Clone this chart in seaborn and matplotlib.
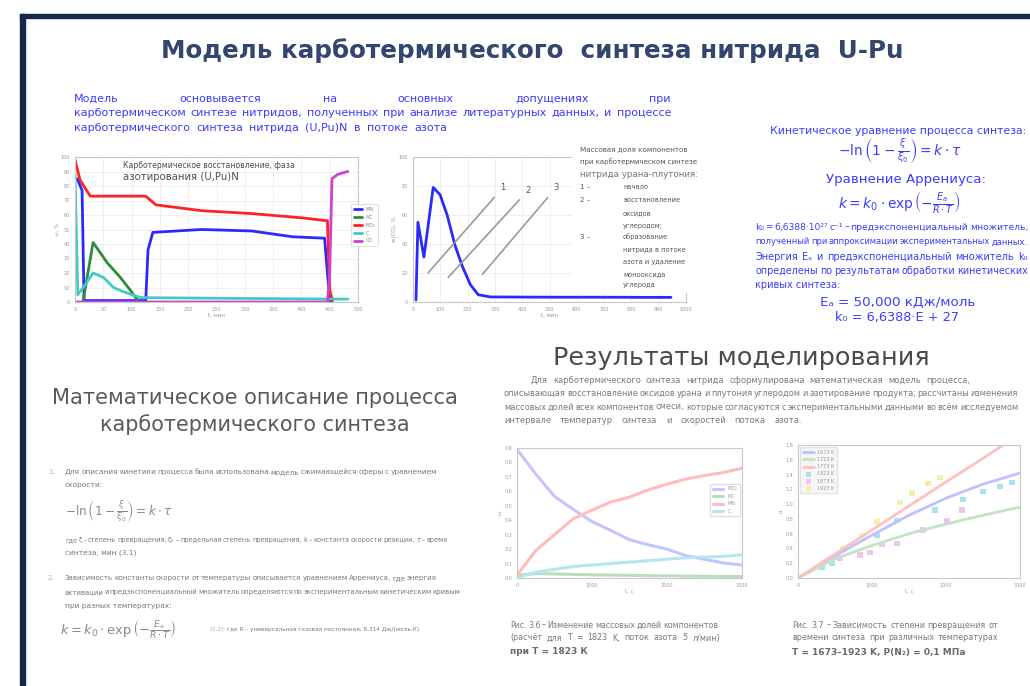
import matplotlib
matplotlib.use("Agg")
import matplotlib.pyplot as plt
import seaborn as sns
from matplotlib.patches import Rectangle

W, H = 1030, 686

# ---------------- data ----------------
# Chart 1: mass fractions of phases over the synthesis run, %
c1_labels = ["MN", "MC", "MO₂", "C", "CO"]
c1_blue_t = [4, 12.5, 16, 125, 129, 137.5, 223, 312, 384, 441, 450, 455]
c1_blue_y = [85, 77, 1, 1, 36, 48, 50, 49, 45, 44, 1, 0]
c1_green_t = [14, 32, 57, 80, 98, 111]
c1_green_y = [0, 41, 27, 17, 8, 1]
c1_red_t = [0, 9, 27, 125, 143, 223, 312, 402, 446, 450, 455]
c1_red_y = [98, 84, 73, 73, 67, 63, 61, 58, 56, 8, 1]
c1_cyan_t = [0, 5, 18, 32, 50, 68, 86, 116, 455, 482]
c1_cyan_y = [88, 5, 12, 20, 17, 10, 7, 3, 2, 2]
c1_mag_t = [0, 446, 450, 454, 464, 482]
c1_mag_y = [0, 0, 20, 85, 88, 90]

# Chart 2: CO release rate
c2_t = [11, 18, 40, 74, 99, 125, 154, 180, 210, 239, 283, 393, 540, 687, 835, 945]
c2_y = [1.4, 55, 31, 79, 74, 60, 39, 25, 12, 5, 3.5, 3.4, 3.3, 3.3, 3.2, 3.2]
c2_marks = ["1", "2", "3"]
c2_mark_xy = [(320, 79), (412, 77), (515, 79)]
c2_mark_to = [(55, 20), (129, 17), (254, 19)]

# Chart 3: component fractions vs time
c3_t = [0, 250, 500, 750, 1000, 1250, 1500, 1750, 2000, 2250, 2500, 2750, 3000]
c3_blue = [0.89, 0.72, 0.565, 0.475, 0.39, 0.33, 0.265, 0.23, 0.20, 0.155, 0.13, 0.104, 0.09]
c3_green = [0.02, 0.03, 0.028, 0.025, 0.022, 0.02, 0.018, 0.016, 0.015, 0.013, 0.012, 0.011, 0.01]
c3_red = [0.02, 0.19, 0.30, 0.41, 0.47, 0.526, 0.56, 0.61, 0.65, 0.685, 0.71, 0.73, 0.76]
c3_cyan = [0.0, 0.04, 0.06, 0.08, 0.09, 0.10, 0.11, 0.12, 0.13, 0.14, 0.145, 0.15, 0.16]
c3_labels = ["MO₂", "MC", "MN", "C"]

# Chart 4: conversion degree vs time at several temperatures
c4_t = [0, 500, 1000, 1500, 2000, 2500, 3000]
c4_blue = [0, 0.30, 0.58, 0.85, 1.08, 1.27, 1.42]
c4_green = [0, 0.26, 0.44, 0.60, 0.73, 0.85, 0.96]
c4_red = [0, 0.325, 0.65, 0.975, 1.30, 1.62, 1.95]
c4_cyan_t = [324, 459, 1067, 1337, 1851, 2229, 2500, 2729, 2891]
c4_cyan_y = [0.15, 0.20, 0.58, 0.78, 0.92, 1.06, 1.17, 1.24, 1.29]
c4_mag_t = [567, 838, 973, 1135, 1337, 1689, 2013, 2216]
c4_mag_y = [0.27, 0.31, 0.34, 0.45, 0.47, 0.65, 0.78, 0.92]
c4_yel_t = [608, 865, 1067, 1378, 1540, 1756, 1918]
c4_yel_y = [0.40, 0.58, 0.76, 1.02, 1.15, 1.28, 1.36]
c4_labels = ["1673 K", "1723 K", "1773 K", "1823 K", "1873 K", "1923 K"]

# ---------------- style ----------------
sns.set_style("white")
plt.rcParams["font.family"] = ["DejaVu Sans"]
plt.rcParams["mathtext.fontset"] = "dejavusans"

NAVY = "#14294a"
TITLE = "#34466e"
BLUE = "#3c3cff"
GRAY = "#7a7a7a"
DARK = "#505050"

fig = plt.figure(figsize=(W / 100, H / 100), dpi=100)
fig.patch.set_facecolor("white")
renderer = fig.canvas.get_renderer()


def fx(px):
    return px / W


def fy(py):
    return 1 - py / H


def width_of(t):
    return t.get_window_extent(renderer=renderer).width


def fit(x0, x1, yc, s, size=10, **kw):
    t = fig.text(fx(x0), fy(yc), s, fontsize=size, ha="left", va="center", **kw)
    t.set_fontsize(size * (x1 - x0) / width_of(t))
    return t


def left(x0, yc, s, size, **kw):
    return fig.text(fx(x0), fy(yc), s, fontsize=size, ha="left", va="center", **kw)


def justify(x0, x1, yc, s, size, **kw):
    words = s.split()
    objs = [fig.text(0, fy(yc), w, fontsize=size, ha="left", va="center", **kw) for w in words]
    ws = [width_of(o) for o in objs]
    gap = ((x1 - x0) - sum(ws)) / max(len(words) - 1, 1)
    if gap < 1.5:
        k = (x1 - x0 - 1.5 * (len(words) - 1)) / sum(ws)
        for o in objs:
            o.set_fontsize(size * k)
        ws = [width_of(o) for o in objs]
        gap = ((x1 - x0) - sum(ws)) / max(len(words) - 1, 1)
    x = x0
    for o, w in zip(objs, ws):
        o.set_x(fx(x))
        x += w + gap


def axes_px(l, t, r, b):
    return fig.add_axes([fx(l), fy(b), (r - l) / W, (b - t) / H])


def style_axes(ax, grid=True):
    for sp in ax.spines.values():
        sp.set_color("#c8c8c8")
        sp.set_linewidth(0.8)
    ax.tick_params(labelsize=3.5, colors="#9a9a9a", length=2, width=0.5, pad=1.5)
    if grid:
        ax.grid(True, color="#ececec", linewidth=0.6)
    ax.set_axisbelow(True)


# ---------------- frame ----------------
fig.patches.append(Rectangle((fx(20), fy(686)), 5 / W, (686 - 14) / H,
                             transform=fig.transFigure, color=NAVY, zorder=0))
fig.patches.append(Rectangle((fx(20), fy(18)), (W - 20) / W, 4 / H,
                             transform=fig.transFigure, color=NAVY, zorder=0))

# ---------------- title ----------------
fit(161, 905, 51, "Модель карботермического  синтеза нитрида  U-Pu", 16,
    color=TITLE, fontweight="bold")

# intro paragraph
justify(74, 671, 99, "Модель основывается на основных допущениях при", 8, color=BLUE)
justify(74, 671, 113, "карботермическом синтезе нитридов, полученных при анализе литературных данных, и процессе", 8, color=BLUE)
justify(74, 447, 128, "карботермического синтеза нитрида (U,Pu)N в потоке азота", 8, color=BLUE)

# ---------------- chart 1 ----------------
ax1 = axes_px(75, 157, 358, 302)
series1 = [(c1_blue_t, c1_blue_y, "#2a2aff"), (c1_green_t, c1_green_y, "#2e8b3a"),
           (c1_red_t, c1_red_y, "#ff2222"), (c1_cyan_t, c1_cyan_y, "#45c8c8"),
           (c1_mag_t, c1_mag_y, "#d040d0")]
for (tt, yy, col), lab in zip(series1, c1_labels):
    sns.lineplot(x=tt, y=yy, color=col, linewidth=2.0, label=lab, ax=ax1,
                 estimator=None, sort=False)
ax1.set_xlim(0, 500)
ax1.set_ylim(0, 100)
ax1.set_xticks(range(0, 501, 50))
ax1.set_yticks(range(0, 101, 10))
style_axes(ax1)
ax1.set_xlabel("t, мин", fontsize=4, color="#999", labelpad=1)
ax1.set_ylabel("ω, %", fontsize=4, color="#999", labelpad=1)
leg = ax1.legend(loc="center right", bbox_to_anchor=(1.08, 0.53), fontsize=3.5,
                 frameon=True, handlelength=1.5, borderpad=0.6, labelspacing=0.6)
leg.get_frame().set_edgecolor("#d0d0d0")
leg.get_frame().set_linewidth(0.6)
for txt in leg.get_texts():
    txt.set_color("#888")
fit(123, 295, 165, "Карботермическое восстановление, фаза", 6, color=DARK)
fit(123, 240, 177, "азотирования (U,Pu)N", 6, color=DARK)

# ---------------- chart 2 ----------------
ax2 = axes_px(413, 157, 686, 302)
sns.lineplot(x=c2_t, y=c2_y, color="#2a2aff", linewidth=2.0, ax=ax2,
             estimator=None, sort=False)
ax2.set_xlim(0, 1000)
ax2.set_ylim(0, 100)
ax2.set_xticks(range(0, 1001, 100))
ax2.set_yticks(range(0, 101, 20))
style_axes(ax2)
ax2.set_xlabel("t, мин", fontsize=4, color="#999", labelpad=1)
ax2.set_ylabel("w(CO), %", fontsize=4, color="#999", labelpad=1)
for m, xy, to in zip(c2_marks, c2_mark_xy, c2_mark_to):
    ax2.annotate(m, xy=to, xytext=xy, fontsize=6, color="#555", ha="left", va="center",
                 arrowprops=dict(arrowstyle="-", color="#9a9a9a", lw=1.2,
                                 shrinkA=3, shrinkB=0))

# legend box over the top-right of chart 2
fig.patches.append(Rectangle((fx(572), fy(292)), 130 / W, 150 / H,
                             transform=fig.transFigure, color="white", zorder=3))
box_kw = dict(color="#555", zorder=4)
fit(580, 688, 149, "Массовая доля компонентов", 6, **box_kw)
fit(580, 700, 162, "при карботермическом синтезе", 6, **box_kw)
fit(580, 700, 175, "нитрида урана-плутония:", 6, color="#777", zorder=4)
for yc, mark in [(187, "1 –"), (200, "2 –"), (237, "3 –")]:
    left(580, yc, mark, 5, **box_kw)
for yc, s in [(187, "начало"), (200, "восстановление"),
              (213, "оксидов"), (226, "углеродом;"),
              (237, "образование"), (250, "нитрида в потоке"),
              (262, "азота и удаление"), (274, "монооксида"),
              (285, "углерода")]:
    left(623, yc, s, 4.8, **box_kw)

# ---------------- right blue block ----------------
fit(770, 1025, 131, "Кинетическое уравнение процесса синтеза:", 8, color=BLUE)
fit(838, 960, 151, r"$-\ln\left(1-\frac{\xi}{\xi_0}\right)=k\cdot\tau$", 8, color=BLUE)
fit(826, 986, 180, "Уравнение Аррениуса:", 8, color=BLUE)
fit(838, 960, 202, r"$k=k_0\cdot\exp\left(-\frac{E_a}{R\cdot T}\right)$", 8, color=BLUE)
justify(755, 1028, 227, "k₀ = 6,6388·10²⁷ с⁻¹ – предэкспоненциальный множитель,", 7, color=BLUE)
justify(755, 1028, 242, "полученный при аппроксимации экспериментальных данных.", 7, color=BLUE)
justify(755, 1028, 257, "Энергия Eₐ и предэкспоненциальный множитель k₀", 7, color=BLUE)
justify(755, 1028, 271, "определены по результатам обработки кинетических", 7, color=BLUE)
left(755, 285, "кривых синтеза:", 7, color=BLUE)
fit(820, 975, 302, "Eₐ = 50,000 кДж/моль", 8, color=BLUE)
fit(835, 960, 318, "k₀ = 6,6388·E + 27", 8, color=BLUE)

# ---------------- mathematical description ----------------
fit(52, 460, 398, "Математическое описание процесса", 15, color="#5a5a5a")
fit(100, 410, 425, "карботермического синтеза", 15, color="#5a5a5a")

BODY = dict(color=GRAY)
left(48, 472, "1.", 5, color="#b0b0b0")
justify(65, 437, 472, "Для описания кинетики процесса была использована модель сжимающейся сферы с уравнением", 5.4, **BODY)
left(65, 485, "скорости:", 5.4, **BODY)
fit(65, 172, 511, r"$-\ln\left(1-\frac{\xi}{\xi_0}\right)=k\cdot\tau$", 8, color="#8a8a8a")
justify(65, 447, 540, "где ξ – степень превращения, ξ₀ – предельная степень превращения, k – константа скорости реакции, τ – время", 5.4, **BODY)
left(65, 553, "синтеза, мин (3.1)", 5.4, **BODY)
left(48, 578, "2.", 5, color="#b0b0b0")
justify(65, 437, 578, "Зависимость константы скорости от температуры описывается уравнением Аррениуса, где энергия", 5.4, **BODY)
justify(65, 460, 592, "активации и предэкспоненциальный множитель определяются по экспериментальным кинетическим кривым", 5.4, **BODY)
left(65, 606, "при разных температурах:", 5.4, **BODY)
fit(60, 176, 630, r"$k=k_0\cdot\exp\left(-\frac{E_a}{R\cdot T}\right)$", 8, color="#8a8a8a")
left(209, 630, "(3.2)", 4.5, color="#b0b0b0")
fit(227, 420, 630, "где R – универсальная газовая постоянная, 8,314 Дж/(моль·К)", 5, **BODY)

# ---------------- results ----------------
fit(553, 930, 358, "Результаты моделирования", 15, color="#4a4a4a")
justify(531, 970, 380, "Для карботермического синтеза нитрида сформулирована математическая модель процесса,", 6, **BODY)
justify(504, 1018, 393, "описывающая восстановление оксидов урана и плутония углеродом и азотирование продукта; рассчитаны изменения", 6, **BODY)
justify(504, 1018, 407, "массовых долей всех компонентов смеси, которые согласуются с экспериментальными данными во всём исследуемом", 6, **BODY)
justify(504, 802, 421, "интервале температур синтеза и скоростей потока азота.", 6, **BODY)

# ---------------- chart 3 ----------------
ax3 = axes_px(517, 448, 742, 578)
series3 = [(c3_blue, "#c4c4ff"), (c3_green, "#bcdcbc"), (c3_red, "#ffbcbc"), (c3_cyan, "#b4e6f0")]
for (yy, col), lab in zip(series3, c3_labels):
    sns.lineplot(x=c3_t, y=yy, color=col, linewidth=2.2, label=lab, ax=ax3,
                 estimator=None, sort=False)
ax3.set_xlim(0, 3000)
ax3.set_ylim(0, 0.9)
ax3.set_xticks([0, 1000, 2000, 3000])
ax3.set_yticks([i / 10 for i in range(10)])
style_axes(ax3, grid=False)
ax3.set_xlabel("t, с", fontsize=4, color="#aaa", labelpad=1)
ax3.set_ylabel("ω", fontsize=4, color="#999", labelpad=1)
leg3 = ax3.legend(loc="center right", bbox_to_anchor=(1.0, 0.6), fontsize=3.5,
                  frameon=True, handlelength=2.2, borderpad=0.5, labelspacing=0.5)
leg3.get_frame().set_edgecolor("#d8d8d8")
for txt in leg3.get_texts():
    txt.set_color("#999")

# ---------------- chart 4 ----------------
ax4 = axes_px(798, 445, 1020, 578)
sns.lineplot(x=c4_t, y=c4_blue, color="#c0c0ff", linewidth=2.0, label=c4_labels[0], ax=ax4)
sns.lineplot(x=c4_t, y=c4_green, color="#c4e2c4", linewidth=2.0, label=c4_labels[1], ax=ax4)
sns.lineplot(x=c4_t, y=c4_red, color="#ffc0c0", linewidth=2.0, label=c4_labels[2], ax=ax4)
sns.scatterplot(x=c4_cyan_t, y=c4_cyan_y, color="#a8e2ea", marker="s", s=14,
                edgecolor="none", label=c4_labels[3], ax=ax4)
sns.scatterplot(x=c4_mag_t, y=c4_mag_y, color="#f2c2f2", marker="s", s=14,
                edgecolor="none", label=c4_labels[4], ax=ax4)
sns.scatterplot(x=c4_yel_t, y=c4_yel_y, color="#f0f0b4", marker="s", s=14,
                edgecolor="none", label=c4_labels[5], ax=ax4)
ax4.set_xlim(0, 3000)
ax4.set_ylim(0, 1.8)
ax4.set_xticks([0, 1000, 2000, 3000])
ax4.set_yticks([i / 5 for i in range(10)])
style_axes(ax4, grid=False)
ax4.set_xlabel("t, с", fontsize=4, color="#aaa", labelpad=1)
ax4.set_ylabel("α", fontsize=4, color="#999", labelpad=1)
leg4 = ax4.legend(loc="upper left", fontsize=3.5, frameon=True, handlelength=2.2,
                  borderpad=0.5, labelspacing=0.45, facecolor="#f4f4f4")
leg4.get_frame().set_edgecolor("#dcdcdc")
for txt in leg4.get_texts():
    txt.set_color("#999")

# ---------------- captions ----------------
justify(510, 718, 625, "Рис. 3.6 – Изменение массовых долей компонентов", 5.8, **BODY)
justify(510, 720, 638, "(расчёт для T = 1823 K, поток азота 5 л/мин)", 5.8, **BODY)
left(510, 652, "при T = 1823 К", 6.5, color="#6a6a6a", fontweight="bold")
justify(792, 998, 625, "Рис. 3.7 – Зависимость степени превращения от", 5.8, **BODY)
justify(792, 998, 638, "времени синтеза при различных температурах", 5.8, **BODY)
left(792, 652, "T = 1673–1923 K, P(N₂) = 0,1 МПа", 6.5, color="#6a6a6a", fontweight="bold")

fig.savefig("out.png", dpi=100, facecolor="white")
